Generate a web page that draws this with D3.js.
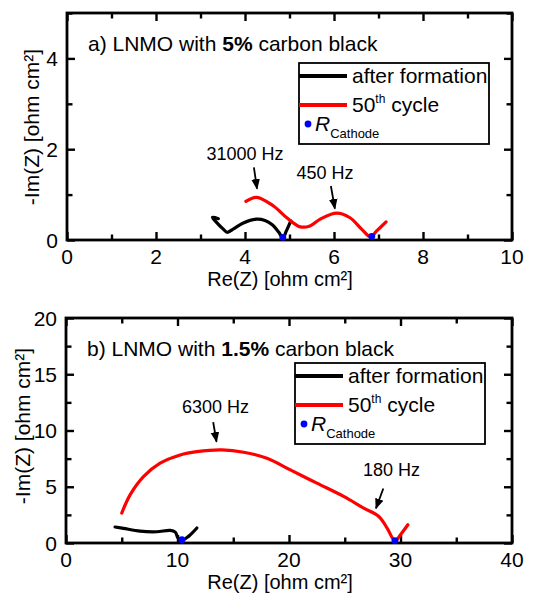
<!DOCTYPE html>
<html>
<head>
<meta charset="utf-8">
<script src="https://cdn.jsdelivr.net/npm/d3@7"></script>
<style>
  body { margin: 0; background: #fff; }
  svg { font-family: "Liberation Sans", Arial, sans-serif; }
</style>
</head>
<body>
<svg id="chart" width="536" height="593"></svg>
<script>
// panel a) 5% carbon black
var afterA = [[3.4,0.47],[3.27,0.5],[3.35,0.4],[3.5,0.25],[3.6,0.17],[3.75,0.25],[3.95,0.37],[4.26,0.46],[4.45,0.43],[4.62,0.33],[4.76,0.17],[4.85,0.05],[4.93,0.2],[5.03,0.42]];
var cycleA = [[4.02,0.85],[4.26,0.94],[4.64,0.75],[4.94,0.49],[5.24,0.29],[5.46,0.31],[5.69,0.46],[6.06,0.59],[6.36,0.49],[6.62,0.24],[6.82,0.07],[6.96,0.2],[7.17,0.4]];
var rCathA = [[4.85,0.06],[6.85,0.08]];
var notesA = [{label:"31000 Hz", lx:4.0, ly:1.77, x0:4.2, y0:1.6, x1:4.27, y1:1.13},
              {label:"450 Hz", lx:5.8, ly:1.35, x0:5.93, y0:1.19, x1:6.02, y1:0.69}];

// panel b) 1.5% carbon black
var afterB = [[4.4,1.42],[5.15,1.3],[6.65,1.05],[8.14,1.0],[9.34,1.12],[9.8,0.97],[10.05,0.44],[10.39,0.24],[10.99,0.59],[11.74,1.33]];
var cycleB = [[5.0,2.66],[5.75,4.28],[6.95,5.9],[8.44,7.09],[10.24,7.83],[11.74,8.12],[13.98,8.27],[15.93,8.07],[18.02,7.53],[20.12,6.5],[22.5,5.32],[24.9,4.14],[26.7,3.1],[28.05,2.36],[28.8,1.33],[29.5,0.2],[30.0,0.74],[30.66,1.62]];
var rCathB = [[10.39,0.3],[29.5,0.22]];
var notesB = [{label:"6300 Hz", lx:13.4, ly:11.6, x0:13.2, y0:10.75, x1:13.5, y1:9.0},
              {label:"180 Hz", lx:29.2, ly:6.0, x0:28.46, y0:4.85, x1:27.8, y1:3.08}];

var panels = [
  {top:13, bottom:240, left:67, right:512, xmax:10, ymax:5, xMajor:[0,2,4,6,8,10], xMinor:[1,3,5,7,9],
   yMajor:[0,2,4], yMinor:[1,3,5], titleA:"a) LNMO with ", titleB:"5%", titleC:" carbon black",
   after:afterA, cycle:cycleA, rcath:rCathA, notes:notesA, legend:[299,63,489,144], ylabX:39, ylabY:127},
  {top:318, bottom:543, left:66, right:512, xmax:40, ymax:20, xMajor:[0,10,20,30,40], xMinor:[5,15,25,35],
   yMajor:[0,5,10,15,20], yMinor:[2.5,7.5,12.5,17.5], titleA:"b) LNMO with ", titleB:"1.5%", titleC:" carbon black",
   after:afterB, cycle:cycleB, rcath:rCathB, notes:notesB, legend:[295,363,485,444], ylabX:30, ylabY:426}
];

var FS = 21;
var svg = d3.select("#chart");
svg.append("defs").append("marker").attr("id", "arr")
  .attr("viewBox", "0 0 10 10").attr("refX", 9).attr("refY", 5)
  .attr("markerWidth", 6).attr("markerHeight", 6).attr("orient", "auto")
  .append("path").attr("d", "M0,1 L10,5 L0,9 Z").attr("fill", "#000");

panels.forEach(function (p) {
  var x = d3.scaleLinear().domain([0, p.xmax]).range([p.left, p.right]);
  var y = d3.scaleLinear().domain([0, p.ymax]).range([p.bottom, p.top]);
  var g = svg.append("g");
  var line = d3.line().x(function (d) { return x(d[0]); }).y(function (d) { return y(d[1]); })
    .curve(d3.curveCatmullRom.alpha(0.5));

  // ticks on all four sides, pointing inward
  [[d3.axisBottom, x, 0, p.bottom, "x"], [d3.axisTop, x, 0, p.top, "x"],
   [d3.axisLeft, y, p.left, 0, "y"], [d3.axisRight, y, p.right, 0, "y"]].forEach(function (a) {
    var major = a[4] === "x" ? p.xMajor : p.yMajor, minor = a[4] === "x" ? p.xMinor : p.yMinor;
    [[major, 8], [minor, 5.5]].forEach(function (m) {
      var ax = g.append("g").attr("transform", "translate(" + a[2] + "," + a[3] + ")")
        .call(a[0](a[1]).tickValues(m[0]).tickSizeInner(-m[1]).tickSizeOuter(0).tickFormat(""));
      ax.select(".domain").remove();
      ax.selectAll("line").attr("stroke", "#000").attr("stroke-width", 2.4);
    });
  });

  // tick labels
  g.selectAll(".xl").data(p.xMajor).enter().append("text")
    .attr("x", function (d) { return x(d); }).attr("y", p.bottom + 24)
    .attr("text-anchor", "middle").attr("font-size", FS).text(function (d) { return d; });
  g.selectAll(".yl").data(p.yMajor).enter().append("text")
    .attr("x", p.left - 9).attr("y", function (d) { return y(d) + 7.5; })
    .attr("text-anchor", "end").attr("font-size", FS).text(function (d) { return d; });

  // frame
  g.append("rect").attr("x", p.left).attr("y", p.top).attr("width", p.right - p.left).attr("height", p.bottom - p.top)
    .attr("fill", "none").attr("stroke", "#000").attr("stroke-width", 2.8);

  // axis titles
  g.append("text").attr("x", 280).attr("y", p.bottom + 45.5).attr("text-anchor", "middle").attr("font-size", 20)
    .text("Re(Z) [ohm cm²]");
  g.append("text").attr("transform", "translate(" + p.ylabX + "," + p.ylabY + ") rotate(-90)")
    .attr("text-anchor", "middle").attr("font-size", FS).text("-Im(Z) [ohm cm²]");

  // panel title
  var t = g.append("text").attr("x", p.left + 21).attr("y", p.top + 38).attr("font-size", FS);
  t.append("tspan").text(p.titleA);
  t.append("tspan").attr("font-weight", "bold").text(p.titleB);
  t.append("tspan").text(p.titleC);

  // curves
  g.append("path").datum(p.after).attr("d", line).attr("fill", "none").attr("stroke", "#000")
    .attr("stroke-width", 3.2).attr("stroke-linejoin", "round").attr("stroke-linecap", "round");
  g.append("path").datum(p.cycle).attr("d", line).attr("fill", "none").attr("stroke", "#f00")
    .attr("stroke-width", 3.2).attr("stroke-linejoin", "round").attr("stroke-linecap", "round");
  g.selectAll(".rc").data(p.rcath).enter().append("circle")
    .attr("cx", function (d) { return x(d[0]); }).attr("cy", function (d) { return y(d[1]); })
    .attr("r", 3.4).attr("fill", "#00f");

  // frequency annotations
  p.notes.forEach(function (n) {
    g.append("text").attr("x", x(n.lx)).attr("y", y(n.ly)).attr("text-anchor", "middle").attr("font-size", 18).text(n.label);
    g.append("line").attr("x1", x(n.x0)).attr("y1", y(n.y0)).attr("x2", x(n.x1)).attr("y2", y(n.y1))
      .attr("stroke", "#000").attr("stroke-width", 1.8).attr("marker-end", "url(#arr)");
  });

  // legend
  var L = p.legend;
  var lg = g.append("g");
  lg.append("rect").attr("x", L[0]).attr("y", L[1]).attr("width", L[2] - L[0]).attr("height", L[3] - L[1])
    .attr("fill", "#fff").attr("stroke", "#000").attr("stroke-width", 1.8);
  lg.append("line").attr("x1", L[0]).attr("x2", L[0] + 48).attr("y1", L[1] + 13).attr("y2", L[1] + 13)
    .attr("stroke", "#000").attr("stroke-width", 4);
  lg.append("text").attr("x", L[0] + 53).attr("y", L[1] + 20).attr("font-size", FS).text("after formation");
  lg.append("line").attr("x1", L[0]).attr("x2", L[0] + 48).attr("y1", L[1] + 42).attr("y2", L[1] + 42)
    .attr("stroke", "#f00").attr("stroke-width", 4);
  var c = lg.append("text").attr("x", L[0] + 53).attr("y", L[1] + 49).attr("font-size", FS);
  c.append("tspan").text("50");
  c.append("tspan").attr("font-size", 12).attr("dy", -9).text("th");
  c.append("tspan").attr("dy", 9).text(" cycle");
  lg.append("circle").attr("cx", L[0] + 9).attr("cy", L[1] + 61).attr("r", 3.4).attr("fill", "#00f");
  var r = lg.append("text").attr("x", L[0] + 16).attr("y", L[1] + 68).attr("font-size", FS);
  r.append("tspan").attr("font-style", "italic").text("R");
  r.append("tspan").attr("font-size", 13).attr("dy", 7).text("Cathode");
});
</script>
</body>
</html>
